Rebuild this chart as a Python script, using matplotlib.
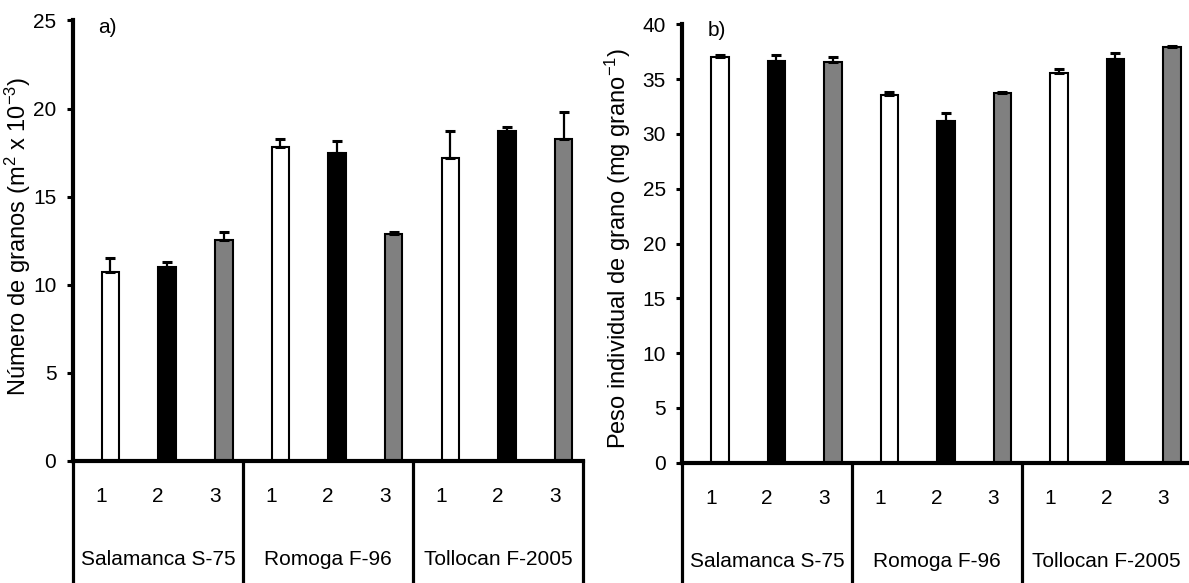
import numpy as np
import matplotlib
matplotlib.use('Agg')
import matplotlib.pyplot as plt

plt.rcParams['font.family'] = ['Liberation Sans', 'DejaVu Sans']
plt.rcParams['mathtext.default'] = 'regular'

# cultivars and sowing treatments
groups = ['Salamanca S-75', 'Romoga F-96', 'Tollocan F-2005']
treatments = ['1', '2', '3']

# a) grain number (m2 x 10-3), mean and standard error
granos = [10.7, 11.0, 12.55, 17.8, 17.5, 12.87, 17.2, 18.7, 18.3]
granos_err = [0.8, 0.3, 0.47, 0.48, 0.65, 0.12, 1.52, 0.27, 1.52]

# b) individual grain weight (mg grano-1)
peso = [37.0, 36.65, 36.6, 33.55, 31.2, 33.7, 35.6, 36.8, 37.95]
peso_err = [0.16, 0.55, 0.4, 0.3, 0.72, 0.15, 0.3, 0.55, 0.06]

bar_colors = ['white', 'black', '#808080']


def draw_panel(ax, values, errors, ymax, ylabel, tag):
    n = len(values)
    x = np.arange(n)
    colors = [bar_colors[i % 3] for i in range(n)]
    ax.bar(x + 0.16, values, width=0.31, color=colors,
           edgecolor='black', linewidth=1.5, zorder=2)
    ax.errorbar(x + 0.16, values, yerr=[np.zeros(n), errors], fmt='none',
                ecolor='black', elinewidth=1.6, capsize=3.4, capthick=2.2,
                zorder=3)

    ax.set_xlim(-0.5, n - 0.5)
    ax.set_ylim(0, ymax)
    ax.set_yticks(np.arange(0, ymax + 1, 5))
    ax.set_xticks(x)
    ax.set_xticklabels(treatments * len(groups))
    ax.tick_params(axis='x', length=0, pad=19, labelsize=15)
    ax.tick_params(axis='y', direction='out', length=4, width=2.2,
                   pad=8, labelsize=15)

    for side in ['top', 'right']:
        ax.spines[side].set_visible(False)
    ax.spines['left'].set_linewidth(3)
    ax.spines['bottom'].set_linewidth(3)

    # boxes around the cultivar names below the axis
    for b in np.arange(-0.5, n, 3):
        ax.axvline(b, ymin=-0.35, ymax=0, color='black', lw=2.3,
                   clip_on=False)
    for g, name in enumerate(groups):
        ax.text(3 * g + 1, -0.2247, name, transform=ax.get_xaxis_transform(),
                ha='center', va='center', fontsize=15)

    ax.set_ylabel(ylabel, fontsize=17)
    ax.text(0.05, 0.985, tag, transform=ax.transAxes, ha='left',
            va='center', fontsize=15)


fig = plt.figure(figsize=(11.89, 5.83), dpi=100)
ax1 = fig.add_axes([0.0614, 0.2093, 0.4289, 0.7556])
ax2 = fig.add_axes([0.574, 0.2063, 0.4277, 0.752])

draw_panel(ax1, granos, granos_err, 25,
           'Número de granos (m$^{2}$ x 10$^{-3}$)', 'a)')
draw_panel(ax2, peso, peso_err, 40,
           'Peso individual de grano (mg grano$^{-1}$)', 'b)')
ax1.yaxis.set_label_coords(-0.079, 0.51)
ax2.yaxis.set_label_coords(-0.097, 0.49)

fig.savefig('out.png', dpi=100)
